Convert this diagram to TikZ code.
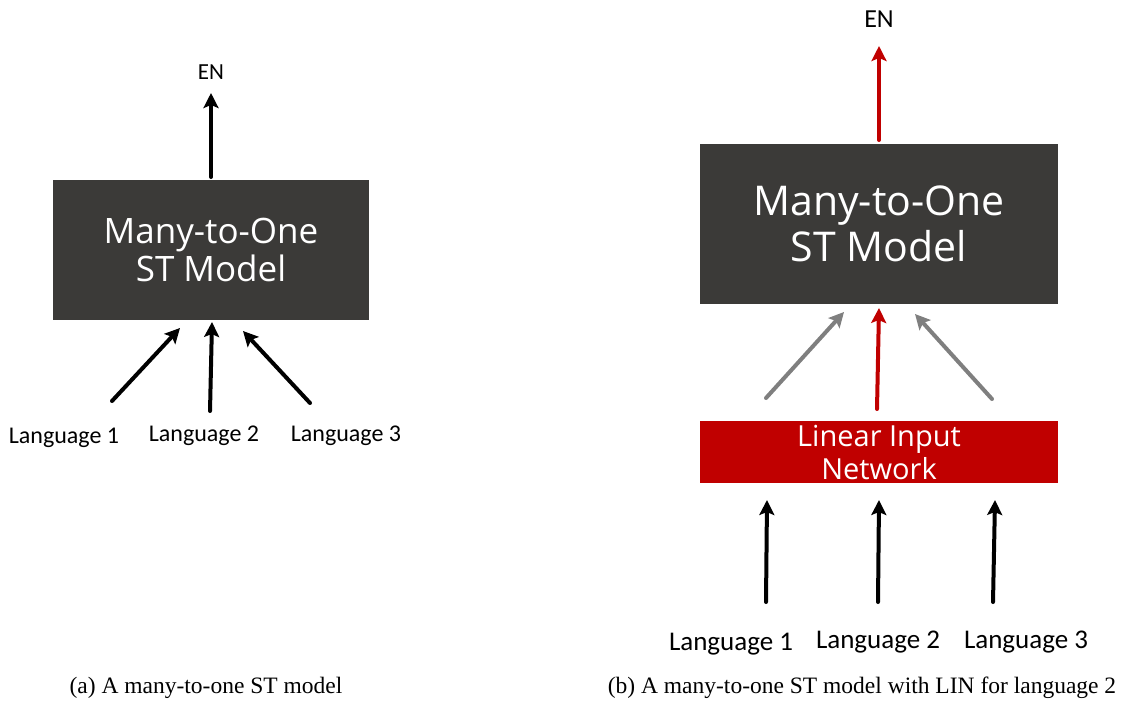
\documentclass[tikz,border=0pt]{standalone}
\usepackage{fontspec}
\setmainfont{Liberation Serif}
\newfontfamily\boxfont{Open Sans}
\newfontfamily\labfont{Carlito}
\usetikzlibrary{arrows.meta}
\definecolor{boxgray}{HTML}{3B3A38}
\definecolor{linred}{HTML}{C00000}
\definecolor{arrgray}{HTML}{7F7F7F}
\begin{document}
\begin{tikzpicture}[x=1pt,y=-1pt,
  model/.style={fill=boxgray,draw=none,text=white,align=center,inner sep=0pt},
  lin/.style={fill=linred,draw=none,text=white,align=center,inner sep=0pt},
  lab/.style={inner sep=0pt,text=black},
  arr/.style={line width=4pt,line cap=round,-{Stealth[length=15pt,width=15pt,inset=3pt]}},
  captext/.style={inner sep=0pt,font=\fontsize{23.5}{28}\selectfont}
]
\useasboundingbox (0,0) rectangle (1139,702);
% ---------- panel (a)
\node[model,minimum width=316pt,minimum height=140pt,font=\boxfont\fontsize{35}{38}\selectfont] (ma) at (211,250) {Many-to-One\\ST Model};
\node[lab,font=\labfont\fontsize{23}{26}\selectfont] (ena) at (211,72) {EN};
\node[lab,font=\labfont\fontsize{24}{28}\selectfont] (la1) at (64,438) {Language 1};
\node[lab,font=\labfont\fontsize{24}{28}\selectfont] (la2) at (204,436) {Language 2};
\node[lab,font=\labfont\fontsize{24}{28}\selectfont] (la3) at (346,436) {Language 3};
\coordinate (a1s) at (112,401); \coordinate (a1e) at (180,328);
\coordinate (a2s) at (210,411); \coordinate (a2e) at (212,322);
\coordinate (a3s) at (310,403); \coordinate (a3e) at (243,331);
\coordinate (aos) at (211,177); \coordinate (aoe) at (211,93);
\draw[arr,black] (a1s) -- (a1e);
\draw[arr,black] (a2s) -- (a2e);
\draw[arr,black] (a3s) -- (a3e);
\draw[arr,black] (aos) -- (aoe);
\node[captext] (capa) at (206,688) {(a) A many-to-one ST model};
% ---------- panel (b)
\node[model,minimum width=358pt,minimum height=160pt,font=\boxfont\fontsize{41}{46}\selectfont] (mb) at (879,224) {Many-to-One\\ST Model};
\node[lin,minimum width=358pt,minimum height=62pt,font=\boxfont\fontsize{29}{33}\selectfont] (lb) at (879,452) {Linear Input\\Network};
\node[lab,font=\labfont\fontsize{26}{30}\selectfont] (enb) at (879,19) {EN};
\node[lab,font=\labfont\fontsize{27}{32}\selectfont] (lb1) at (731,644) {Language 1};
\node[lab,font=\labfont\fontsize{27}{32}\selectfont] (lb2) at (878,642) {Language 2};
\node[lab,font=\labfont\fontsize{27}{32}\selectfont] (lb3) at (1026,642) {Language 3};
\coordinate (b1s) at (766,602); \coordinate (b1e) at (767,500);
\coordinate (b2s) at (878,602); \coordinate (b2e) at (879,500);
\coordinate (b3s) at (993,602); \coordinate (b3e) at (995,500);
\draw[arr,black] (b1s) -- (b1e);
\draw[arr,black] (b2s) -- (b2e);
\draw[arr,black] (b3s) -- (b3e);
\coordinate (g1s) at (766,398); \coordinate (g1e) at (844,312);
\coordinate (r2s) at (877,409); \coordinate (r2e) at (879,308);
\coordinate (g3s) at (992,399); \coordinate (g3e) at (915,314);
\draw[arr,arrgray] (g1s) -- (g1e);
\draw[arr,linred] (r2s) -- (r2e);
\draw[arr,arrgray] (g3s) -- (g3e);
\coordinate (bos) at (879,140); \coordinate (boe) at (879,46);
\draw[arr,linred] (bos) -- (boe);
\node[captext] (capb) at (862,688) {(b) A many-to-one ST model with LIN for language 2};
\end{tikzpicture}
\end{document}
